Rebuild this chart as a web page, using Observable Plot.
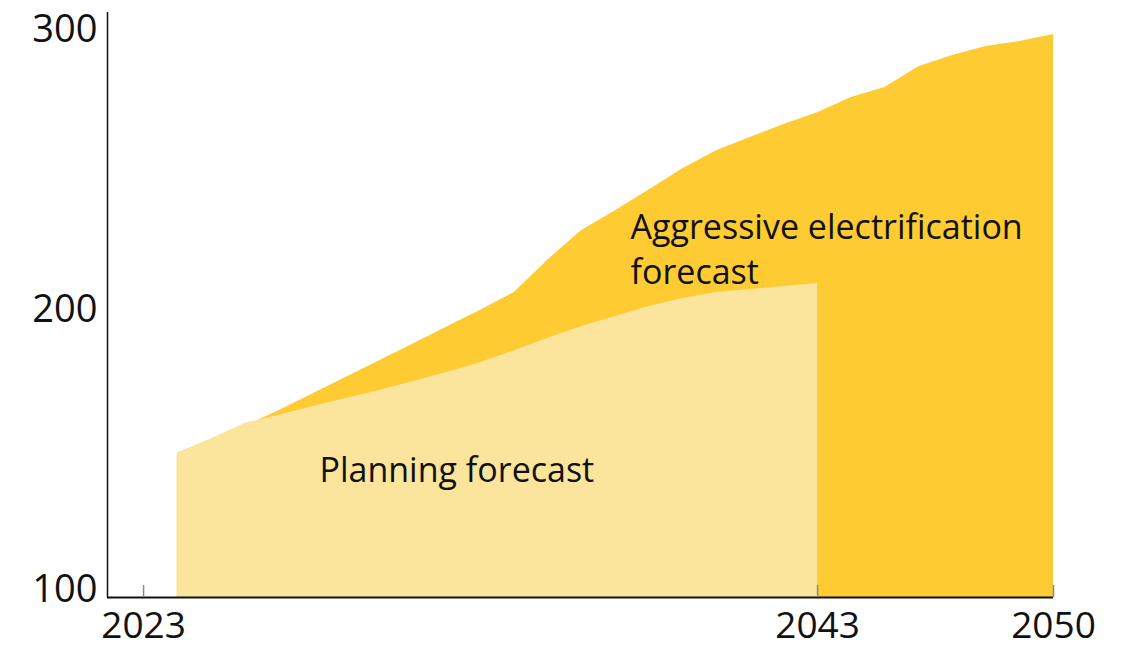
<!DOCTYPE html>
<html>
<head>
<meta charset="utf-8">
<script src="https://cdn.jsdelivr.net/npm/d3@7"></script>
<script src="https://cdn.jsdelivr.net/npm/@observablehq/plot@0.6"></script>
<style>
  html, body { margin: 0; padding: 0; background: #fff; }
  #chart svg { display: block; }
</style>
</head>
<body>
<div id="chart"></div>
<script>
// ---- data ----
const aggYears = [2024,2025,2026,2027,2028,2029,2030,2031,2032,2033,2034,2035,2036,2037,2038,2039,2040,2041,2042,2043,2044,2045,2046,2047,2048,2049,2050];
const aggValues = [147,152,157.5,163,169,175,181,187,193,199,205.4,217,227.5,234.6,242,249.6,256,260.7,265.4,269.6,275,278.6,286,290,293.2,295,297.5];

const planYears = [2024,2025,2026,2027,2028,2029,2030,2031,2032,2033,2034,2035,2036,2037,2038,2039,2040,2041,2042,2043];
const planValues = [148,153,158.6,161.4,164.6,167.5,170.4,173.6,176.8,180.4,184.6,189,193.2,196.8,200.4,203.2,205.4,206.4,207.5,208.6];

const xTicks = [2023, 2043, 2050];
const yTicks = [100, 200, 300];

const labelTexts = ["Aggressive electrification\nforecast", "Planning forecast"];
const labelYears = [2037.45, 2028.22];
const labelValues = [221.5, 142.6];

const xDomain = [2021.93, 2050];
const yDomain = [96.43, 305.36];

const aggressive = aggYears.map((year, i) => ({year, v: aggValues[i]}));
const planning = planYears.map((year, i) => ({year, v: planValues[i]}));
const labels = labelTexts.map((text, i) => ({text, year: labelYears[i], v: labelValues[i]}));

const font = "'Open Sans', Lato, sans-serif";

const chart = Plot.plot({
  width: 1122,
  height: 649,
  marginLeft: 107,
  marginRight: 69,
  marginTop: 12,
  marginBottom: 52,
  style: { fontFamily: font, background: "#fff", color: "#111" },
  x: { domain: xDomain, label: null },
  y: { domain: yDomain, label: null },
  marks: [
    Plot.areaY(aggressive, { x: "year", y1: () => yDomain[0], y2: "v", fill: "#FECB32" }),
    Plot.areaY(planning, { x: "year", y1: () => yDomain[0], y2: "v", fill: "#FBE49B" }),
    Plot.ruleY([yDomain[0]], { stroke: "#111", strokeWidth: 2 }),
    Plot.ruleX([xDomain[0]], { stroke: "#111", strokeWidth: 1.5 }),
    Plot.tickX(xTicks, { x: d => d, insetTop: 573, stroke: "#888", strokeWidth: 1.5 }),
    Plot.axisY({ ticks: yTicks, tickSize: 0, tickPadding: 10, fontSize: 38, dy: 2, tickFormat: d => String(d), fill: "#111" }),
    Plot.axisX({ ticks: xTicks, tickSize: 0, tickPadding: 14, fontSize: 37, tickFormat: d => String(d), fill: "#111" }),
    Plot.text(labels, { x: "year", y: "v", text: "text", textAnchor: "start", lineAnchor: "middle", fontSize: 34, lineHeight: 1.3, fill: "#111" })
  ]
});
document.getElementById("chart").appendChild(chart);
</script>
</body>
</html>
